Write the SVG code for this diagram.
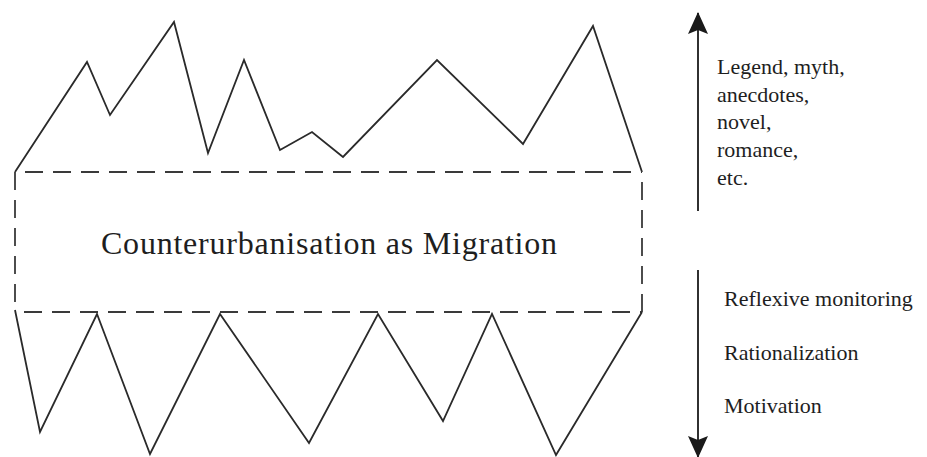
<svg xmlns="http://www.w3.org/2000/svg" width="927" height="457" viewBox="0 0 927 457">
<style>
.zig{fill:none;stroke:#2a2a2a;stroke-width:1.8;stroke-linejoin:miter}
.dash{fill:none;stroke:#3a3a3a;stroke-width:1.8;stroke-dasharray:18 10}
.arr{fill:none;stroke:#1a1a1a;stroke-width:1.8}
text{font-family:'Liberation Serif','Times New Roman',Times,serif;fill:#1e1e1e}
</style>
<defs>
<marker id="ah" viewBox="0 0 22 22" refX="21" refY="11" markerWidth="22" markerHeight="22" markerUnits="userSpaceOnUse" orient="auto">
<path d="M0,1 L22,11 L0,21 L4,11 Z" fill="#1a1a1a"/>
</marker>
</defs>
<rect width="927" height="457" fill="#fff"/>
<g id="top-zigzag">
<polyline class="zig" points="15,172 87,62 110,115 174,22 208,153 244,60 280,150 312,132 343,157 437,60 523,144 593,26 642,172"/>
</g>
<g id="box">
<line class="dash" x1="25" y1="172" x2="642" y2="172"/>
<line class="dash" x1="24" y1="312" x2="642" y2="312"/>
<line class="dash" x1="15" y1="172" x2="15" y2="310"/>
<line class="dash" x1="642" y1="182" x2="642" y2="312"/>
<text font-family="Liberation Serif, serif" x="329" y="254" font-size="32" text-anchor="middle" textLength="456" lengthAdjust="spacing">Counterurbanisation as Migration</text>
</g>
<g id="bottom-zigzag">
<polyline class="zig" points="15,310 40,432 97,314 150,454 220,314 309,443 378,314 443,421 492,314 556,455 642,312"/>
</g>
<g id="connectors">
<line class="arr" x1="698" y1="211" x2="698" y2="13" marker-end="url(#ah)"/>
<line class="arr" x1="698" y1="270" x2="698" y2="457" marker-end="url(#ah)"/>
</g>
<g id="upper-labels" font-family="Liberation Serif, serif" font-size="22">
<text x="717" y="74">Legend, myth,</text>
<text x="717" y="102">anecdotes,</text>
<text x="717" y="129">novel,</text>
<text x="717" y="157">romance,</text>
<text x="717" y="185">etc.</text>
</g>
<g id="lower-labels" font-family="Liberation Serif, serif" font-size="22">
<text x="724" y="306">Reflexive monitoring</text>
<text x="724" y="360">Rationalization</text>
<text x="724" y="413">Motivation</text>
</g>
</svg>
